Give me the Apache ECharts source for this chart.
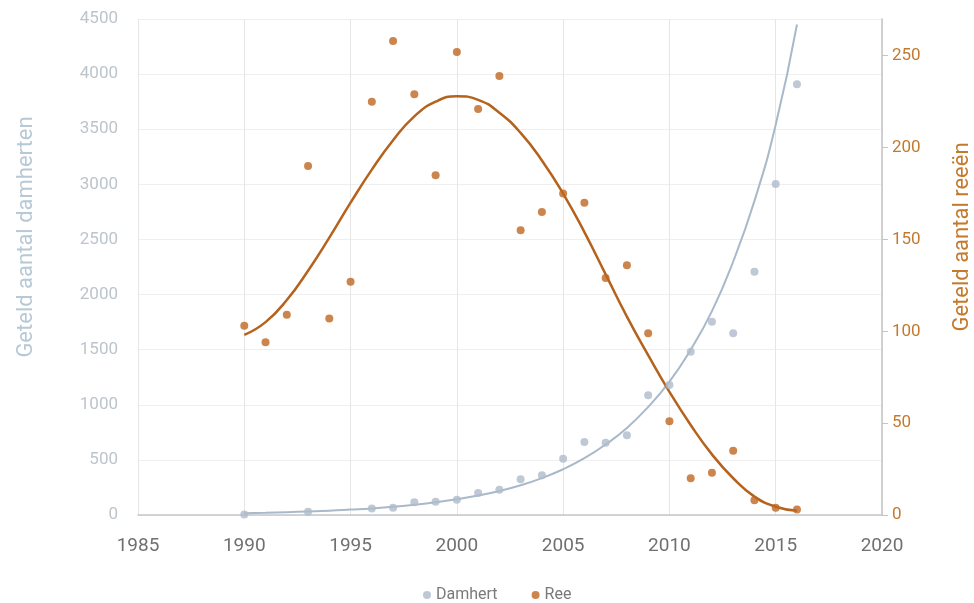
<!DOCTYPE html>
<html>
<head>
<meta charset="utf-8">
<script src="https://cdn.jsdelivr.net/npm/echarts@6/dist/echarts.min.js"></script>
<style>
  html, body { margin: 0; padding: 0; background: #fff; }
  #chart { width: 974px; height: 603px; }
</style>
</head>
<body>
<div id="chart"></div>
<script>
// jaren
var years = [1990, 1991, 1992, 1993, 1994, 1995, 1996, 1997, 1998, 1999, 2000, 2001, 2002,
  2003, 2004, 2005, 2006, 2007, 2008, 2009, 2010, 2011, 2012, 2013, 2014, 2015, 2016];

// getelde damherten (null = geen telling)
var damhert = [5, null, null, 30, null, null, 60, 66, 115, 121, 139, 200, 230,
  324, 360, 511, 662, 656, 723, 1086, 1180, 1482, 1754, 1649, 2208, 3004, 3908];

// getelde reeen
var ree = [103, 94, 109, 190, 107, 127, 225, 258, 229, 185, 252, 221, 239,
  155, 165, 175, 170, 129, 136, 99, 51, 20, 23, 35, 8, 4, 3];

var damhertTrend = [17, 21, 26, 32, 39, 49, 60, 75, 93, 115, 142, 176, 218,
  270, 335, 415, 515, 640, 790, 980, 1210, 1500, 1850, 2300, 2850, 3540, 4450];
var reeTrend = [98, 105, 117, 133, 151, 170, 188, 204, 217, 225, 228, 226, 219,
  208, 193, 175, 154, 131, 108, 87, 67, 49, 33, 20, 10, 4.5, 2.3];

var colDam = '#aebccb';
var colRee = '#bf671f';

function pairs(ys) {
  var out = [];
  for (var i = 0; i < years.length; i++) {
    if (ys[i] !== null) out.push([years[i], ys[i]]);
  }
  return out;
}

function plain(v) { return String(v); }

var chart = echarts.init(document.getElementById('chart'));

var option = {
  backgroundColor: '#fff',
  textStyle: { fontFamily: 'Roboto' },
  animation: false,
  grid: { left: 138, right: 92, top: 19, bottom: 88, outerBoundsMode: 'none' },
  legend: {
    top: 582,
    left: 418,
    icon: 'circle',
    itemWidth: 8,
    itemHeight: 8,
    itemGap: 34,
    textStyle: { color: '#7a7a7a', fontSize: 16 },
    data: ['Damhert', 'Ree']
  },
  xAxis: {
    type: 'value',
    min: 1985,
    max: 2020,
    interval: 5,
    axisLine: { lineStyle: { color: '#c4c8cc', width: 1.5 } },
    axisTick: { show: false },
    axisLabel: { color: '#707070', fontSize: 19, margin: 22, formatter: plain },
    splitLine: { show: true, lineStyle: { color: '#e6e6e6' } }
  },
  yAxis: [
    {
      type: 'value',
      min: 0,
      max: 4500,
      interval: 500,
      name: 'Geteld aantal damherten',
      nameLocation: 'middle',
      nameRotate: 90,
      nameGap: 101,
      nameTextStyle: { color: '#b8c9d6', fontSize: 22, padding: [0, 0, 0, 60] },
      axisLine: { show: false },
      axisTick: { show: false },
      axisLabel: { color: '#bcc4cc', fontSize: 17, margin: 20, formatter: plain },
      splitLine: { lineStyle: { color: '#efefef' } }
    },
    {
      type: 'value',
      min: 0,
      max: 270,
      interval: 50,
      position: 'right',
      name: 'Geteld aantal reeën',
      nameLocation: 'middle',
      nameRotate: 90,
      nameGap: 69,
      nameTextStyle: { color: '#c47a2c', fontSize: 22, padding: [0, 0, 0, 60] },
      axisLine: { show: true, lineStyle: { color: '#c4c4c4', width: 1.5 } },
      axisTick: { show: true, length: 6, lineStyle: { color: '#c4c4c4' } },
      axisLabel: { color: '#c27a2e', fontSize: 17, margin: 10, showMaxLabel: false, formatter: plain },
      splitLine: { show: false }
    }
  ],
  series: [
    {
      name: 'Damhert trend',
      type: 'line',
      yAxisIndex: 0,
      smooth: true,
      showSymbol: false,
      lineStyle: { color: '#a9b9c9', width: 2 },
      data: pairs(damhertTrend),
      z: 2
    },
    {
      name: 'Ree trend',
      type: 'line',
      yAxisIndex: 1,
      smooth: true,
      showSymbol: false,
      lineStyle: { color: '#b5621c', width: 2.5 },
      data: pairs(reeTrend),
      z: 2
    },
    {
      name: 'Damhert',
      type: 'scatter',
      yAxisIndex: 0,
      symbolSize: 8,
      itemStyle: { color: colDam },
      data: pairs(damhert),
      z: 3
    },
    {
      name: 'Ree',
      type: 'scatter',
      yAxisIndex: 1,
      symbolSize: 8,
      itemStyle: { color: colRee },
      data: pairs(ree),
      z: 3
    }
  ]
};

chart.setOption(option);
</script>
</body>
</html>
